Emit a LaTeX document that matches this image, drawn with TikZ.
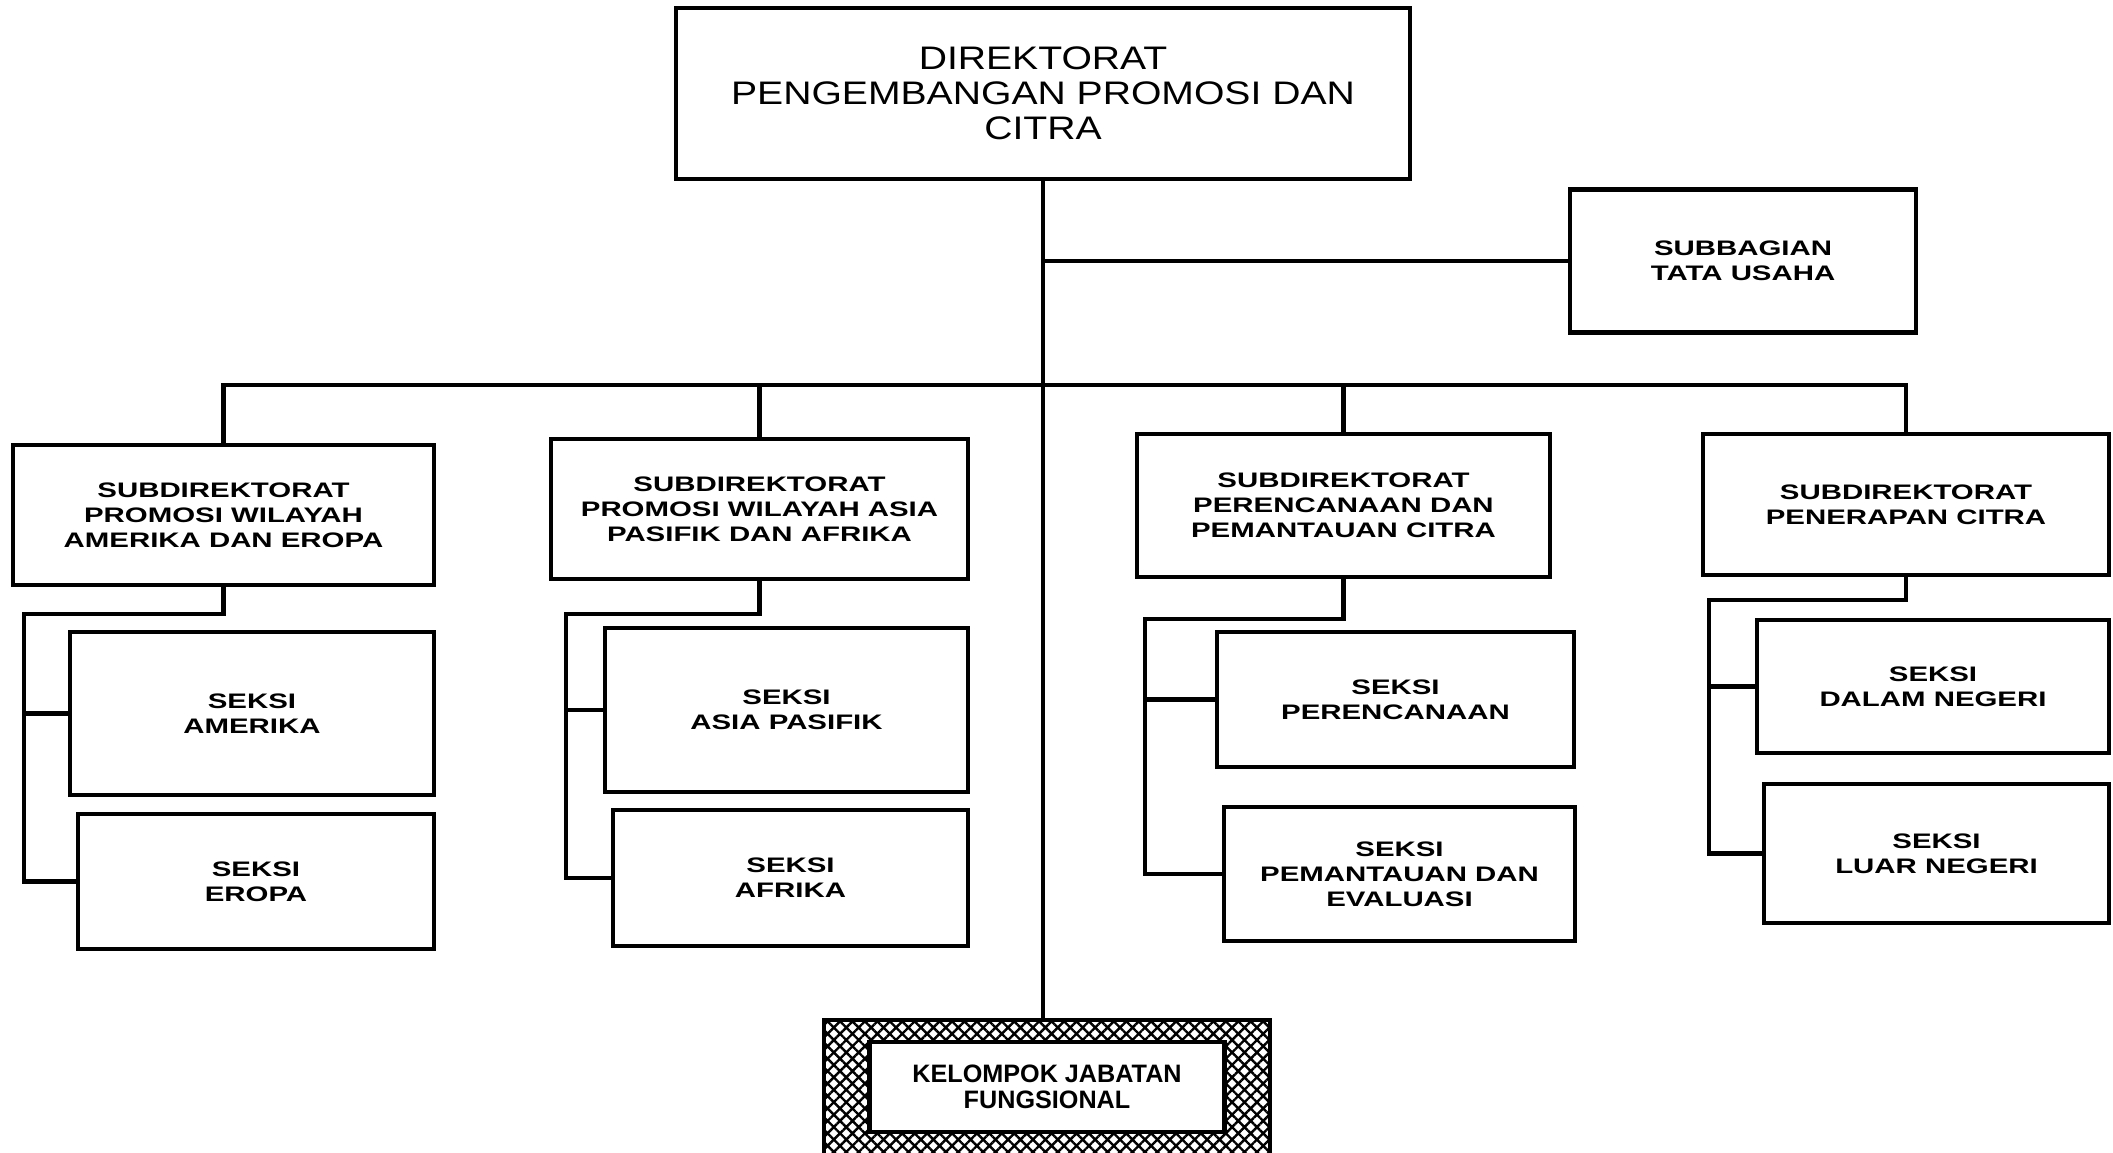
\documentclass[tikz,border=0pt]{standalone}
\usepackage{fontspec}
\setmainfont{Liberation Sans}
\newfontfamily\widefont[FakeStretch=1.4]{Liberation Sans}
\newfontfamily\titlefont[FakeStretch=1.2]{Liberation Sans}
\usetikzlibrary{patterns.meta}

\begin{document}
\begin{tikzpicture}[x=0.5pt, y=-0.5pt, line width=2.2pt,
      orgbox/.style={draw, fill=white, inner sep=0pt, align=center,
        font=\widefont\bfseries\fontsize{10.5}{12.5}\selectfont}]
    \useasboundingbox (0,0) rectangle (2113,1152);
    \fill[white] (0,0) rectangle (2113,1152);
    \clip (0,0) rectangle (2113,1152);

    % top of the chart
    \node[draw, align=center, minimum width=367pt, minimum height=85.5pt,
          font=\titlefont\fontsize{16.3}{17.5}\selectfont]
          (dir) at (1043,93.5) {DIREKTORAT\\PENGEMBANGAN PROMOSI DAN\\CITRA};
    \node[orgbox, minimum width=173pt, minimum height=71.5pt]
          (tu) at (1743,261) {SUBBAGIAN\\TATA USAHA};

    % subdirektorat
    \node[orgbox, minimum width=210.5pt, minimum height=70pt]
          (sd1) at (223.5,515) {SUBDIREKTORAT\\PROMOSI WILAYAH\\AMERIKA DAN EROPA};
    \node[orgbox, minimum width=208.5pt, minimum height=70pt]
          (sd2) at (759.5,509) {SUBDIREKTORAT\\PROMOSI WILAYAH ASIA\\PASIFIK DAN AFRIKA};
    \node[orgbox, minimum width=206.5pt, minimum height=71.5pt]
          (sd3) at (1343.5,505.5) {SUBDIREKTORAT\\PERENCANAAN DAN\\PEMANTAUAN CITRA};
    \node[orgbox, minimum width=203pt, minimum height=70.5pt]
          (sd4) at (1906,504.5) {SUBDIREKTORAT\\PENERAPAN CITRA};

    % seksi
    \node[orgbox, minimum width=182pt, minimum height=81.5pt]
          (s1a) at (252,713.5) {SEKSI\\AMERIKA};
    \node[orgbox, minimum width=178pt, minimum height=67.5pt]
          (s1b) at (256,881.5) {SEKSI\\EROPA};
    \node[orgbox, minimum width=181.5pt, minimum height=82pt]
          (s2a) at (786.5,710) {SEKSI\\ASIA PASIFIK};
    \node[orgbox, minimum width=177.5pt, minimum height=68pt]
          (s2b) at (790.5,878) {SEKSI\\AFRIKA};
    \node[orgbox, minimum width=178.5pt, minimum height=67.5pt]
          (s3a) at (1395.5,699.5) {SEKSI\\PERENCANAAN};
    \node[orgbox, minimum width=175.5pt, minimum height=67pt]
          (s3b) at (1399.5,874) {SEKSI\\PEMANTAUAN DAN\\EVALUASI};
    \node[orgbox, minimum width=176pt, minimum height=66.5pt]
          (s4a) at (1933,686.5) {SEKSI\\DALAM NEGERI};
    \node[orgbox, minimum width=172.5pt, minimum height=69.5pt]
          (s4b) at (1936.5,853.5) {SEKSI\\LUAR NEGERI};

    % kelompok jabatan fungsional
    \node[draw, pattern={Hatch[angle=45, distance=4.4pt, line width=1.2pt]},
          minimum width=223pt, minimum height=77.5pt]
          (kjfout) at (1047,1097.5) {};
    \node[draw, fill=white, align=center, minimum width=177.5pt, minimum height=45pt,
          font=\bfseries\fontsize{12.6}{13.3}\selectfont]
          (kjf) at (1047,1087) {KELOMPOK JABATAN\\FUNGSIONAL};

    % connectors
    \coordinate (bus) at (1043,385);
    \draw (dir.south) -- (dir.south |- kjfout.north);
    \draw (dir.south |- tu.west) -- (tu.west);
    \draw (sd1.north) |- (bus) -| (sd4.north);
    \draw (sd2.north) -- (sd2.north |- bus);
    \draw (sd3.north) -- (sd3.north |- bus);

    \coordinate (sp1) at (24,614);
    \coordinate (sp2) at (566,614);
    \coordinate (sp3) at (1145,619);
    \coordinate (sp4) at (1709,600);
    \draw (sd1.south) |- (sp1) |- (s1b.west);
    \draw (sp1 |- s1a.west) -- (s1a.west);
    \draw (sd2.south) |- (sp2) |- (s2b.west);
    \draw (sp2 |- s2a.west) -- (s2a.west);
    \draw (sd3.south) |- (sp3) |- (s3b.west);
    \draw (sp3 |- s3a.west) -- (s3a.west);
    \draw (sd4.south) |- (sp4) |- (s4b.west);
    \draw (sp4 |- s4a.west) -- (s4a.west);
  \end{tikzpicture}
\end{document}
